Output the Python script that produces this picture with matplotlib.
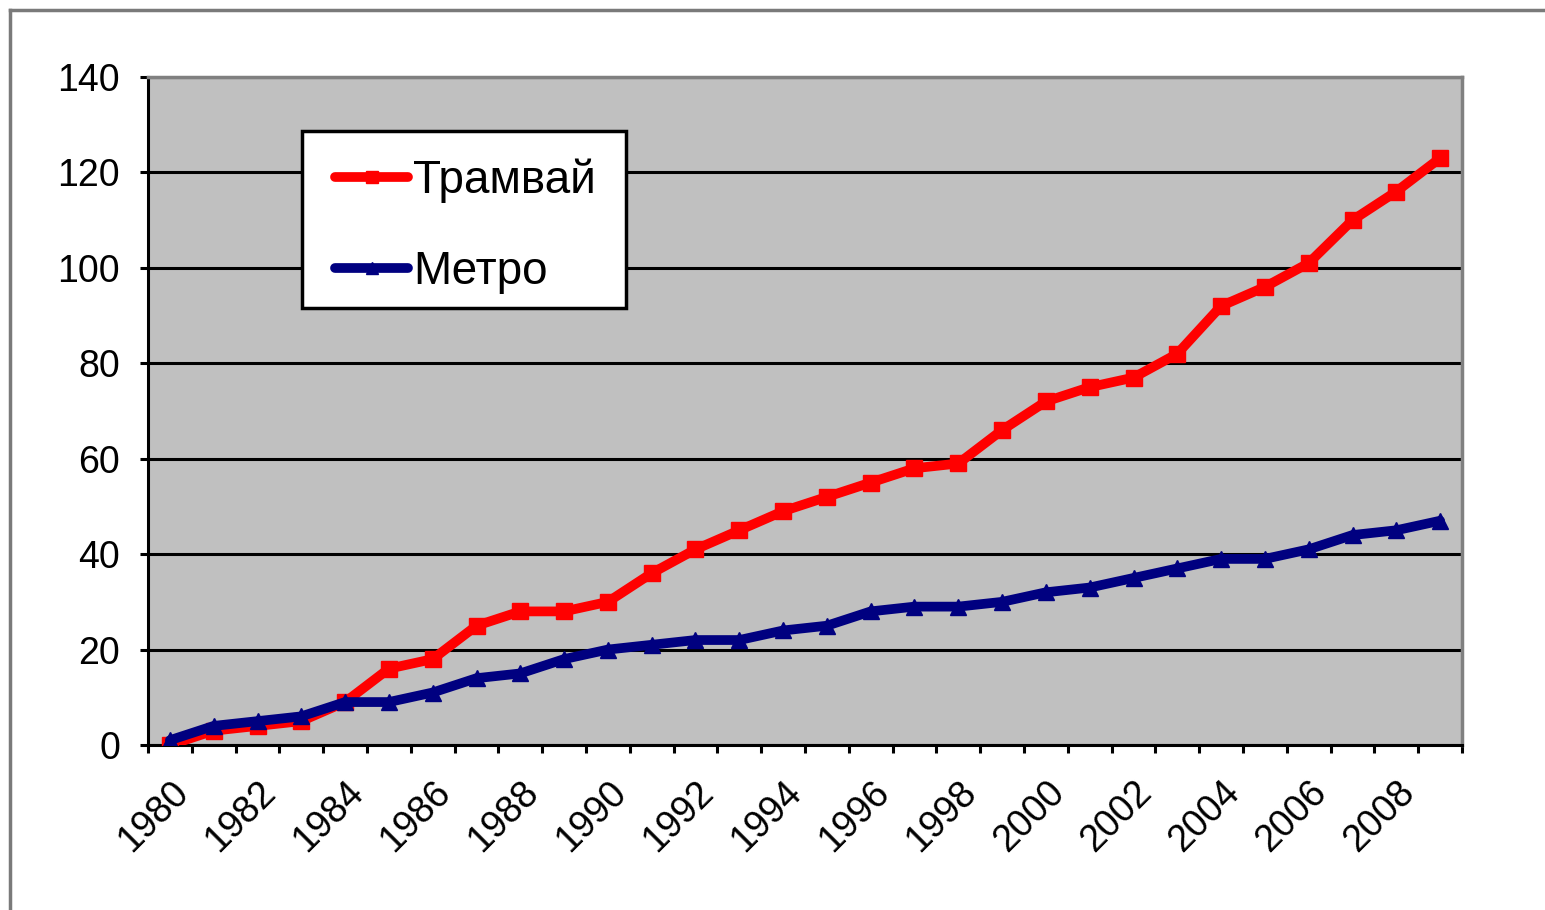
import numpy as np
import matplotlib
matplotlib.use("Agg")
import matplotlib.pyplot as plt
from matplotlib import patches
from matplotlib.lines import Line2D

plt.rcParams["font.family"] = ["Liberation Sans", "DejaVu Sans"]

years = list(range(1980, 2010))
tram = [0, 3, 4, 5, 9, 16, 18, 25, 28, 28, 30, 36, 41, 45, 49, 52, 55, 58, 59, 66,
        72, 75, 77, 82, 92, 96, 101, 110, 116, 123]
metro = [1, 4, 5, 6, 9, 9, 11, 14, 15, 18, 20, 21, 22, 22, 24, 25, 28, 29, 29, 30,
         32, 33, 35, 37, 39, 39, 41, 44, 45, 47]
series_names = ["Трамвай", "Метро"]
y_ticks = [0, 20, 40, 60, 80, 100, 120, 140]

W, H = 1545, 910
fig = plt.figure(figsize=(W / 100, H / 100), dpi=100)
fig.patch.set_facecolor("white")

# outer chart frame (only top and left visible in the reference)
fig.add_artist(Line2D([10 / W, 10 / W], [0, 1 - 10 / H], color="#7a7a7a", lw=2.5,
                      transform=fig.transFigure))
fig.add_artist(Line2D([10 / W, 1], [1 - 10 / H, 1 - 10 / H], color="#7a7a7a", lw=2.5,
                      transform=fig.transFigure))

ax = fig.add_axes([148 / W, 1 - 745 / H, (1462 - 148) / W, (745 - 77) / H])
ax.set_facecolor("#c0c0c0")

x = np.arange(len(years))
ax.plot(x, tram, color="#ff0000", lw=7, marker="s", ms=12, mec="#ff0000",
        label=series_names[0], zorder=3, solid_joinstyle="round",
        solid_capstyle="round")
ax.plot(x, metro, color="#000080", lw=7, marker="^", ms=12, mec="#000080",
        label=series_names[1], zorder=4, solid_joinstyle="round",
        solid_capstyle="round")

ax.set_xlim(-0.5, len(years) - 0.5)
ax.set_ylim(0, 140)

ax.set_yticks(y_ticks)
ax.set_yticklabels([str(v) for v in y_ticks])
ax.yaxis.grid(True, color="black", lw=2.2)
ax.set_axisbelow(True)

ax.set_xticks(x[::2])
ax.set_xticklabels([str(y) for y in years[::2]], rotation=45, ha="right",
                   rotation_mode="anchor")
ax.set_xticks(np.arange(-0.5, len(years)), minor=True)
ax.tick_params(axis="x", which="major", length=0, pad=21, labelsize=27)
ax.tick_params(axis="x", which="minor", length=6, width=2.2, color="black",
               direction="out")
ax.tick_params(axis="y", length=6, width=2.2, pad=14, labelsize=27)

for side in ["left", "bottom"]:
    ax.spines[side].set_color("black")
    ax.spines[side].set_linewidth(2.2)
for side in ["top", "right"]:
    ax.spines[side].set_color("#808080")
    ax.spines[side].set_linewidth(2.5)

# legend box drawn separately so its padding can match the reference
box = patches.Rectangle((0.1172, 0.6542), 0.2466, 0.265, transform=ax.transAxes,
                        facecolor="white", edgecolor="black", lw=2.5, zorder=4.5)
ax.add_patch(box)
leg = ax.legend(loc="upper left", bbox_to_anchor=(0.1423, 0.878), borderaxespad=0,
                fontsize=33, frameon=False, numpoints=1,
                handlelength=1.6, handletextpad=0.1, labelspacing=1.03,
                borderpad=0, markerscale=0.75)
leg.set_zorder(5)

fig.savefig("out.png", dpi=100)
